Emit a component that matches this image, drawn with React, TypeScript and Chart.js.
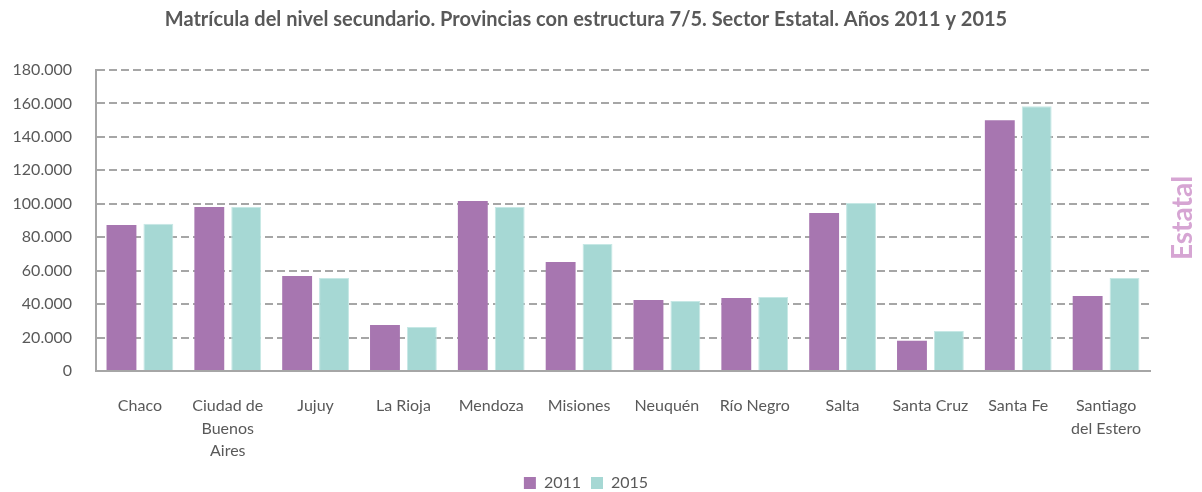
import React, { useEffect, useRef } from "react";
import { Chart, registerables } from "chart.js";

Chart.register(...registerables);

const categories: (string | string[])[] = [
  "Chaco",
  ["Ciudad de", "Buenos", "Aires"],
  "Jujuy",
  "La Rioja",
  "Mendoza",
  "Misiones",
  "Neuquén",
  "Río Negro",
  "Salta",
  "Santa Cruz",
  "Santa Fe",
  ["Santiago", "del Estero"],
];

const values2011 = [87300, 98000, 56800, 27500, 101700, 65200, 42500, 43700, 94500, 18100, 149900, 44900];
const values2015 = [88000, 98000, 55600, 26300, 98000, 76000, 41900, 44300, 100500, 23900, 158300, 55600];

const yTicks = [0, 20000, 40000, 60000, 80000, 100000, 120000, 140000, 160000, 180000];

const titleText = "Matrícula del nivel secundario. Provincias con estructura 7/5. Sector Estatal. Años 2011 y 2015";
const sideText = "Estatal";

const FONT = "Lato, 'Open Sans', sans-serif";
const TEXT = "#595959";

const sideLabel = {
  id: "sideLabel",
  afterDraw(chart: any) {
    const ctx = chart.ctx;
    ctx.save();
    ctx.translate(1183, 218);
    ctx.rotate(-Math.PI / 2);
    ctx.font = `bold 28px ${FONT}`;
    ctx.fillStyle = "#D6A5D3";
    ctx.textAlign = "center";
    ctx.textBaseline = "middle";
    ctx.fillText(sideText, 0, 0);
    ctx.restore();
  },
};

export default function App() {
  const ref = useRef<HTMLCanvasElement | null>(null);

  useEffect(() => {
    document.body.style.margin = "0";
    const chart = new Chart(ref.current as HTMLCanvasElement, {
      type: "bar",
      data: {
        labels: categories,
        datasets: [
          {
            label: "2011",
            data: values2011,
            backgroundColor: "#A776B0",
            borderColor: "#A776B0",
            borderWidth: 0,
            barPercentage: 0.81,
            categoryPercentage: 0.84,
          },
          {
            label: "2015",
            data: values2015,
            backgroundColor: "#A6D8D4",
            borderColor: "#C6E8E5",
            borderWidth: 1,
            barPercentage: 0.81,
            categoryPercentage: 0.84,
          },
        ],
      },
      options: {
        animation: false,
        responsive: false,
        layout: { padding: { left: 0, right: 30, top: 0, bottom: -9 } },
        plugins: {
          title: {
            display: true,
            text: titleText,
            color: TEXT,
            font: { family: FONT, size: 20, weight: "bold", lineHeight: 1.2 },
            padding: { top: 8, bottom: 38 },
          },
          legend: {
            position: "bottom",
            labels: {
              color: TEXT,
              font: { family: FONT, size: 16 },
              boxWidth: 12,
              boxHeight: 12,
              padding: 10,
              generateLabels(chart: any) {
                return chart.data.datasets.map((ds: any, i: number) => ({
                  text: ds.label,
                  fillStyle: ds.backgroundColor,
                  strokeStyle: ds.backgroundColor,
                  lineWidth: 0,
                  fontColor: TEXT,
                  datasetIndex: i,
                  hidden: false,
                }));
              },
            },
          },
          tooltip: { enabled: false },
        },
        scales: {
          x: {
            grid: { display: false },
            border: { display: true, color: "#A6A6A6", width: 2 },
            ticks: {
              color: TEXT,
              font: { family: FONT, size: 16, lineHeight: 1.4 },
              maxRotation: 0,
              autoSkip: false,
              padding: 16,
            },
            afterFit(scale: any) {
              scale.height = 94;
            },
          },
          y: {
            min: 0,
            max: 180000,
            afterBuildTicks(scale: any) {
              scale.ticks = yTicks.map((v) => ({ value: v }));
            },
            grid: {
              color: "#A6A6A6",
              lineWidth: 2,
              drawTicks: false,
            },
            border: { display: true, color: "#A6A6A6", width: 2, dash: [8, 4] },
            ticks: {
              color: TEXT,
              font: { family: FONT, size: 16 },
              padding: 24,
              callback(v: any) {
                const n = Number(v);
                return n === 0 ? "0" : n.toLocaleString("de-DE");
              },
            },
            afterFit(scale: any) {
              scale.width = 96;
            },
          },
          yRight: {
            position: "right",
            min: 0,
            max: 180000,
            grid: { display: false, drawTicks: false },
            border: { display: false },
            ticks: { display: false },
            afterFit(scale: any) {
              scale.width = 22;
            },
          },
        },
      },
      plugins: [sideLabel],
    });
    return () => chart.destroy();
  }, []);

  return (
    <div style={{ width: 1202, height: 492, background: "#fff" }}>
      <canvas ref={ref} width={1202} height={492} style={{ display: "block" }} />
    </div>
  );
}
